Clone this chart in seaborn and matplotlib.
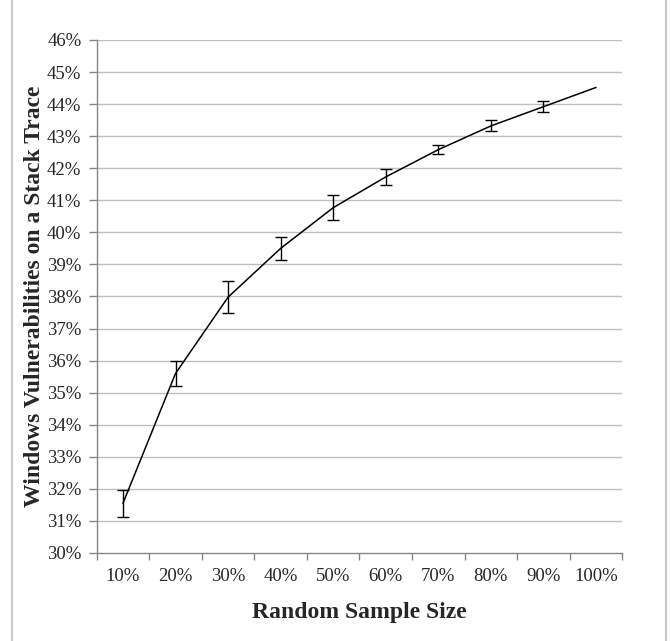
import numpy as np
import pandas as pd
import seaborn as sns
import matplotlib.pyplot as plt
from matplotlib.lines import Line2D

# values (percent)
sample_sizes = ['10%', '20%', '30%', '40%', '50%', '60%', '70%', '80%', '90%', '100%']
mean_vuln = [31.55, 35.60, 37.98, 39.50, 40.77, 41.73, 42.58, 43.32, 43.92, 44.52]
err_vuln = [0.42, 0.38, 0.50, 0.35, 0.38, 0.26, 0.13, 0.17, 0.17, 0.0]
y_ticks = list(range(30, 47))

df = pd.DataFrame({'pos': np.arange(len(sample_sizes)),
                   'size': sample_sizes,
                   'mean': mean_vuln,
                   'err': err_vuln})

sns.set_style('white')
plt.rcParams['font.family'] = ['Liberation Serif', 'DejaVu Serif']

fig = plt.figure(figsize=(6.7, 6.41), dpi=100)
ax = fig.add_axes([0.1443, 0.1373, 0.9288 - 0.1443, 0.9376 - 0.1373])

grid_col = '#BFBFBF'
axis_col = '#868686'

for t in y_ticks[1:]:
    ax.axhline(t, color=grid_col, lw=1.0, zorder=0)

sns.lineplot(data=df, x='pos', y='mean', color='black', lw=1.1, ax=ax, zorder=3)
has_err = df[df['err'] > 0]
ax.errorbar(has_err['pos'], has_err['mean'], yerr=has_err['err'], fmt='none',
            ecolor='black', elinewidth=1.0, capsize=4.5, capthick=1.0, zorder=4)

ax.set_xlim(-0.5, len(sample_sizes) - 0.5)
ax.set_ylim(30, 46)
ax.set_yticks(y_ticks)
ax.set_yticklabels([f'{t}%' for t in y_ticks], fontsize=13.5)

# category ticks at boundaries, labels centred
ax.set_xticks(np.arange(-0.5, len(sample_sizes), 1.0))
ax.set_xticklabels([])
ax.set_xticks(df['pos'], minor=True)
ax.set_xticklabels(sample_sizes, minor=True, fontsize=13.5)
ax.tick_params(axis='x', which='major', length=5, width=1, color=axis_col, direction='out', bottom=True)
ax.tick_params(axis='x', which='minor', length=0, pad=11)
ax.tick_params(axis='y', length=6, width=1, color=axis_col, direction='out', left=True, pad=5)

for s in ['top', 'right']:
    ax.spines[s].set_visible(False)
for s in ['left', 'bottom']:
    ax.spines[s].set_color(axis_col)
    ax.spines[s].set_linewidth(1.0)

ax.set_xlabel('Random Sample Size', fontsize=17, fontweight='bold', labelpad=12)
ax.set_ylabel('Windows Vulnerabilities on a Stack Trace', fontsize=17, fontweight='bold')
ax.yaxis.set_label_coords(-0.099, 0.5)

# light frame lines at the sides
fig.add_artist(Line2D([12 / 670, 12 / 670], [0, 1], color='#C8C8C8', lw=1.5))
fig.add_artist(Line2D([666 / 670, 666 / 670], [0, 1], color='#C8C8C8', lw=1.5))

fig.savefig('out.png', dpi=100)
